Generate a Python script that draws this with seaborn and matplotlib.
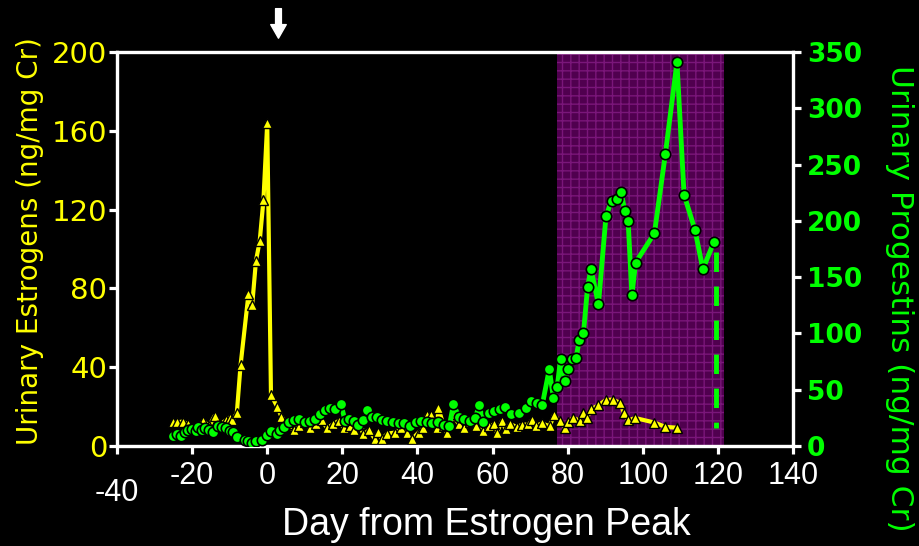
import matplotlib
matplotlib.use("Agg")
import matplotlib.pyplot as plt
import seaborn as sns
import pandas as pd
from matplotlib.transforms import ScaledTranslation

# ---------------- data ----------------
estro_day = [-25, -24, -22.5, -21, -20, -18.5, -17, -15.5, -14, -12.5, -11, -10, -9.3, -8.1,
             -7.1, -5, -4, -3, -2, -1, 0, 1, 2.7, 3.8, 5.5, 7, 8.5, 10, 11.5, 13, 14.5, 16,
             17.5, 19, 20.5, 22, 23, 24.6, 25.6, 27.2, 28.7, 29.6, 30.5, 32, 34, 35.5, 37.2,
             38.5, 40.3, 41.5, 42.5, 43.5, 45.2, 45.6, 47, 47.8, 49.6, 51, 52.5, 54, 55.5,
             57.5, 59, 60.4, 61.1, 62.5, 63.5, 64.7, 66.5, 67.8, 69.5, 70.5, 71.5, 73.1, 75.2,
             76.3, 78, 79.3, 80.2, 81.5, 83.2, 84.2, 85.2, 86.2, 88.2, 90.1, 92, 94, 95, 96.1,
             98, 103.1, 106, 109]
estro_val = [12, 12, 12.4, 11, 8, 9, 12.7, 10, 15.3, 11, 13, 14.4, 13, 16.6,
             41, 77, 71.6, 94, 104, 125, 164, 26, 19.8, 14.8, 11, 8, 10, 12, 9, 11, 13, 9,
             11, 12.7, 9, 10, 8, 11, 6, 8, 3.4, 7, 3.4, 6.3, 6.8, 9, 6.8,
             3.4, 6.8, 9, 15.5, 15.8, 9.3, 19.2, 10, 6.8, 16, 11, 9, 12, 10,
             7.6, 10, 11, 6.8, 12.7, 8.5, 11, 9.7, 10.7, 11, 13, 10, 11.5, 10,
             15.5, 12.8, 9, 12.3, 14.4, 12.7, 16.5, 14.4, 18.7, 20.6, 23.3, 23.6, 21.8, 16.8, 13,
             14.2, 11.9, 9.7, 9.3]

prog_day = [-25, -24, -23, -22, -21, -20, -19, -18.5, -17.5, -16.5, -15.5, -14.5, -13, -12,
            -11, -10, -9, -8, -6, -5, -4, -3, -1.5, 0, 1, 2.5, 3.5, 4.5, 5.7, 7, 8.5, 10,
            11.5, 12.8, 14, 15.4, 16.8, 18, 19.6, 20.8, 21.7, 23, 24.3, 25.6, 26.7, 28, 29.3,
            30.5, 32, 33.5, 35, 36.5, 38, 39.5, 41, 42.5, 44, 45.5, 47, 48.5, 49.6, 51, 52.5,
            54, 55.4, 56.5, 57.4, 59, 60.5, 62, 63.3, 65, 67, 69, 70.3, 71.8, 73.2, 75.1,
            76.2, 77.2, 78.1, 79.2, 80.2, 81.2, 82.2, 83.1, 84.2, 85.3, 86.2, 88.2, 90.2,
            91.7, 93.1, 94.2, 95.2, 96.1, 97.1, 98.1, 103.1, 106, 109.1, 111, 113.9, 116, 118.9]
prog_val = [9, 11, 9, 12, 14, 15, 13, 17, 14, 16, 14, 12, 18, 17,
            16, 13, 12, 8, 5, 4, 3, 4, 5, 10, 13, 11, 14, 17, 21, 23, 24, 21,
            22, 24, 28, 32, 34, 33, 37, 22, 24, 22, 19, 23, 32, 26, 26,
            23, 22, 21, 20, 20, 18, 21, 22, 21, 20, 21, 19, 18, 37, 26, 24,
            22, 25, 36.5, 21, 29, 31, 33, 35, 28, 29, 34, 40, 38, 36, 68,
            43, 52, 77, 58, 68, 77, 78, 94, 100, 141, 157, 126, 204,
            218, 219, 226, 209, 200, 134, 163, 189, 259, 341, 223, 192, 157, 181]

dash_day = [119.5, 119.5]
dash_val = [172, 16]

shade_start, shade_end = 77.2, 121.5
arrow_day = 3

x_ticks = [-40, -20, 0, 20, 40, 60, 80, 100, 120, 140]
left_ticks = [0, 40, 80, 120, 160, 200]
right_ticks = [0, 50, 100, 150, 200, 250, 300, 350]

YELLOW = "#FFFF00"
GREEN = "#00FF00"

# ---------------- style ----------------
sns.set_theme(style="dark")
plt.rcParams.update({
    "figure.facecolor": "black",
    "axes.facecolor": "black",
    "axes.grid": False,
    "hatch.linewidth": 1.0,
})

fig = plt.figure(figsize=(9.19, 5.46), dpi=100)
ax = fig.add_axes([117 / 919, 1 - 446 / 546, (793 - 117) / 919, (446 - 52) / 546])
ax2 = ax.twinx()

# shaded luteal region
ax.axvspan(shade_start, shade_end, facecolor="#50004f", edgecolor="#7a167a",
           hatch="++", linewidth=0, zorder=0)

est_df = pd.DataFrame({"day": estro_day, "val": estro_val})
pro_df = pd.DataFrame({"day": prog_day, "val": prog_val})

sns.lineplot(data=est_df, x="day", y="val", ax=ax, color=YELLOW, linewidth=3,
             marker="^", markersize=7, markeredgecolor="black", markeredgewidth=1,
             sort=False, estimator=None, zorder=3)
sns.lineplot(data=pro_df, x="day", y="val", ax=ax2, color=GREEN, linewidth=3.5,
             marker="o", markersize=7.5, markeredgecolor="black", markeredgewidth=1.2,
             sort=False, estimator=None, zorder=3)
ax2.plot(dash_day, dash_val, color=GREEN, linewidth=3.5, dashes=(4, 3))

ax.set_xlim(-40, 140)
ax.set_ylim(0, 200)
ax2.set_ylim(0, 350)
ax.set_xticks(x_ticks)
ax.set_xticklabels([str(v) for v in x_ticks])
ax.set_yticks(left_ticks)
ax.set_yticklabels([str(v) for v in left_ticks])
ax2.set_yticks(right_ticks)
ax2.set_yticklabels([str(v) for v in right_ticks])

for a in (ax, ax2):
    for s in a.spines.values():
        s.set_color("white")
        s.set_linewidth(2.3)
        s.set_visible(True)

ax.tick_params(axis="x", colors="white", direction="out", length=6, width=2.3, pad=5,
               bottom=True)
ax.tick_params(axis="y", colors="white", direction="out", length=6, width=2.3, pad=1,
               left=True)
ax2.tick_params(axis="y", colors="white", direction="out", length=6, width=2.3, pad=4,
                right=True)

for lab in ax.get_xticklabels():
    lab.set_fontfamily("Liberation Sans")
    lab.set_fontsize(22)
    lab.set_color("white")
for lab in ax.get_yticklabels():
    lab.set_fontfamily("DejaVu Sans")
    lab.set_fontsize(21)
    lab.set_color(YELLOW)
for lab in ax2.get_yticklabels():
    lab.set_fontfamily("DejaVu Sans")
    lab.set_fontweight("bold")
    lab.set_fontsize(19)
    lab.set_color(GREEN)

# the "-40" label sits lower in the original
first = ax.xaxis.get_major_ticks()[0].label1
first.set_transform(first.get_transform() + ScaledTranslation(0.0, -0.17, fig.dpi_scale_trans))

ax.set_xlabel("Day from Estrogen Peak", fontfamily="Liberation Sans", fontsize=27, color="white")
ax.xaxis.set_label_coords(0.546, -0.20)
ax.xaxis.label.set_va("center")

ax.set_ylabel("Urinary Estrogens (ng/mg Cr)", fontfamily="DejaVu Sans", fontsize=20, color=YELLOW)
ax.yaxis.set_label_coords(-0.129, 0.52)
ax.yaxis.label.set_va("center")
ax.yaxis.label.set_rotation_mode("anchor")

ax2.set_ylabel("Urinary Progestins (ng/mg Cr)", fontfamily="DejaVu Sans", fontsize=22.5,
               color=GREEN, rotation=-90)
ax2.yaxis.set_label_coords(1.157, 0.375)
ax2.yaxis.label.set_va("center")
ax2.yaxis.label.set_ha("center")
ax2.yaxis.label.set_rotation_mode("anchor")

ax.annotate("", xy=(arrow_day, 1.035), xytext=(arrow_day, 1.11),
            xycoords=("data", "axes fraction"), textcoords=("data", "axes fraction"),
            arrowprops=dict(arrowstyle="simple,head_length=0.7,head_width=0.8,tail_width=0.3",
                            color="white", mutation_scale=14, shrinkA=0, shrinkB=0),
            annotation_clip=False)

fig.savefig("out.png", dpi=100, facecolor="black")
